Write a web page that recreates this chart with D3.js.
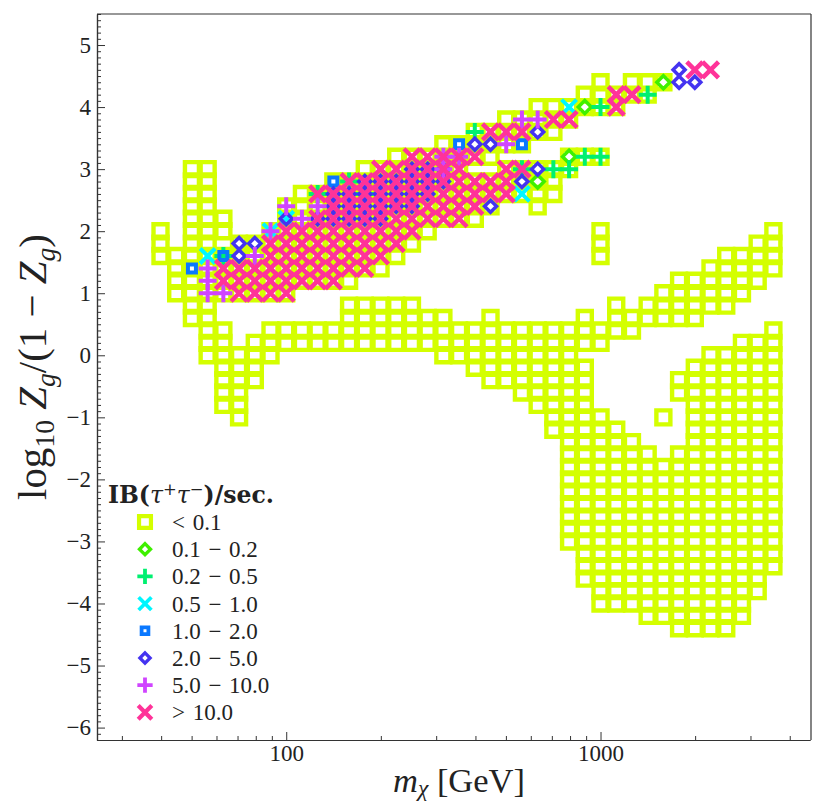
<!DOCTYPE html>
<html><head><meta charset="utf-8">
<script src="https://cdn.jsdelivr.net/npm/d3@7"></script>
<style>body{margin:0;background:#fff}svg{display:block}text{font-family:"Liberation Serif","DejaVu Serif",serif;fill:#222}</style>
</head><body><svg id="chart" width="813" height="804"></svg>
<script>
// Grid cells.
// mIdx = 20*log10(m_chi / GeV)   (0.05-decade bins),  yIdx = 5*log10(Zg/(1-Zg))  (0.2 bins)
// each run: [yIdx, mIdxStart, mIdxEnd]
const labels = ["< 0.1", "0.1 − 0.2", "0.2 − 0.5", "0.5 − 1.0", "1.0 − 2.0", "2.0 − 5.0", "5.0 − 10.0", "> 10.0"];

const runsLt01 = [
 [22,60,60],[22,62,64],[21,59,63],[20,56,61],[19,54,58],[18,52,57],[17,50,55],
 [16,47,53],[16,58,60],
 [15,34,35],[15,45,51],[15,54,58],
 [14,34,35],[14,43,57],
 [13,34,35],[13,41,57],
 [12,34,35],[12,40,53],[12,56,56],
 [11,34,36],[11,40,52],
 [10,32,32],[10,34,36],[10,39,49],[10,60,60],[10,71,71],
 [9,32,32],[9,34,35],[9,37,48],[9,60,60],[9,70,71],
 [8,32,47],[8,60,60],[8,68,71],
 [7,33,46],[7,67,71],
 [6,33,44],[6,65,70],
 [5,33,40],[5,64,69],
 [4,34,35],[4,44,48],[4,61,61],[4,63,68],
 [3,34,35],[3,44,50],[3,53,53],[3,59,59],[3,61,66],
 [2,35,36],[2,39,62],[2,71,71],
 [1,35,36],[1,38,60],[1,69,71],
 [0,35,39],[0,50,58],[0,67,71],
 [-1,36,38],[-1,52,59],[-1,66,71],
 [-2,36,38],[-2,53,59],[-2,65,71],
 [-3,36,37],[-3,55,59],[-3,65,71],
 [-4,36,37],[-4,56,59],[-4,66,71],
 [-5,37,37],[-5,57,60],[-5,64,64],[-5,66,71],
 [-6,57,61],[-6,66,71],
 [-7,58,62],[-7,66,71],
 [-8,58,63],[-8,65,71],
 [-9,58,71],[-10,58,71],[-11,58,71],[-12,58,71],[-13,58,71],[-14,58,71],[-15,58,71],
 [-16,59,71],[-17,59,71],[-18,59,70],[-19,60,70],[-20,60,69],[-21,63,69],[-22,65,68]
];
const runs01to02 = [[22,64,64],[20,59,59],[16,58,58],[14,56,56]];
const runs02to05 = [[21,63,63],[20,60,60],[18,52,52],[16,59,60],[15,57,58],[15,55,55],[14,44,44],[13,42,42],[13,45,45],[8,36,36]];
const runs05to1 = [[20,58,58],[13,55,55],[11,40,40],[10,39,39],[8,35,35]];
const runs1to2 = [[17,51,51],[17,55,55],[14,43,43],[8,36,36],[7,34,34]];
const runs2to5 = [[23,65,65],[22,65,66],[18,56,56],[17,52,53],[15,56,56],[15,48,50],[14,55,55],[14,45,50],
 [13,43,49],[12,53,53],[12,43,48],[11,40,40],[11,42,46],[9,37,38],[8,37,37]];
const runs5to10 = [[19,55,56],[17,54,54],[16,50,51],[15,50,50],[12,40,40],[12,42,42],[11,41,41],[10,39,39],
 [8,38,38],[7,35,35],[6,35,35],[5,35,36]];
const runsGt10 = [[23,66,67],[21,61,62],[20,61,61],[19,57,58],[18,53,55],
 [16,48,52],[15,46,51],[15,54,55],[14,44,54],[13,42,54],[12,43,52],[11,42,51],
 [10,40,48],[9,39,47],[8,39,46],[7,36,45],[6,36,43],[5,37,40]];

const seriesRuns = [runsLt01, runs01to02, runs02to05, runs05to1, runs1to2, runs2to5, runs5to10, runsGt10];

const xMajor = [100, 1000];
const xMinor = [30,40,50,60,70,80,90,200,300,400,500,600,700,800,900,2000,3000,4000];
const yMajor = [-6,-5,-4,-3,-2,-1,0,1,2,3,4,5];

// ---- styles ----
const styles = [
 {color:"#d4ff00", shape:"square", s:14, w:4.4},
 {color:"#3ff000", shape:"diamond", s:6.5, w:3.5},
 {color:"#00f070", shape:"plus", s:9, w:4},
 {color:"#00f6ff", shape:"cross", s:7.5, w:4},
 {color:"#0a78ff", shape:"square", s:8, w:4},
 {color:"#4433f0", shape:"diamond", s:6, w:3.5},
 {color:"#d044ff", shape:"plus", s:9, w:4},
 {color:"#ff3399", shape:"cross", s:8, w:4.5}
];
function shapePath(shape, s){
  if(shape==="square") return `M${-s/2},${-s/2}h${s}v${s}h${-s}Z`;
  if(shape==="diamond") return `M0,${-s}L${s},0L0,${s}L${-s},0Z`;
  if(shape==="plus") return `M${-s},0H${s}M0,${-s}V${s}`;
  return `M${-s},${-s}L${s},${s}M${-s},${s}L${s},${-s}`;
}
function expand(runs){
  const pts=[];
  runs.forEach(([r,c0,c1])=>{ for(let c=c0;c<=c1;c++) pts.push({m:Math.pow(10,c/20), v:r/5}); });
  return pts;
}
// layout helper: match a text's length to a target
function fit(sel, target){
  const w = sel.node().getBBox().width;
  const fs = +sel.attr("font-size");
  if (w > 0) sel.attr("font-size", fs*target/w);
}

const svg = d3.select("#chart");
const x = d3.scaleLog().domain([25, 4640]).range([97, 810]);
const y = d3.scaleLinear().domain([-6.2, 5.5]).range([740, 14]);

// marks
const gMarks = svg.append("g");
seriesRuns.forEach((runs,i)=>{
  const st = styles[i];
  gMarks.append("g").selectAll("path").data(expand(runs)).join("path")
    .attr("d", shapePath(st.shape, st.s))
    .attr("transform", d=>`translate(${x(d.m)},${y(d.v)})`)
    .attr("fill","none").attr("stroke",st.color).attr("stroke-width",st.w)
    .attr("stroke-linecap","butt").attr("stroke-linejoin","miter");
});

// axes
const axisColor = "#333";
svg.append("g").attr("transform","translate(0,740)")
  .call(d3.axisBottom(x).tickValues(xMajor).tickFormat(d3.format("d")).tickSizeInner(-8).tickSizeOuter(0).tickPadding(5));
svg.append("g").attr("transform","translate(0,740)")
  .call(d3.axisBottom(x).tickValues(xMinor).tickFormat("").tickSizeInner(-4).tickSizeOuter(0));
const yMinor = d3.range(-62,56).filter(k=>k%10!==0).map(k=>k/10);
svg.append("g").attr("transform","translate(97,0)")
  .call(d3.axisLeft(y).tickValues(yMajor).tickFormat(d=>d<0?"−"+Math.abs(d):d).tickSizeInner(-8).tickSizeOuter(0).tickPadding(6));
svg.append("g").attr("transform","translate(97,0)")
  .call(d3.axisLeft(y).tickValues(yMinor).tickFormat("").tickSizeInner(-4).tickSizeOuter(0));
svg.selectAll(".domain").attr("stroke",axisColor).attr("stroke-width",1.2);
svg.selectAll(".tick line").attr("stroke",axisColor).attr("stroke-width",1);
svg.selectAll(".tick text").attr("font-size",23).attr("fill","#222");
// frame top/right
svg.append("line").attr("x1",97).attr("x2",811).attr("y1",14).attr("y2",14).attr("stroke",axisColor).attr("stroke-width",1.2);
svg.append("line").attr("x1",811).attr("x2",811).attr("y1",14).attr("y2",740).attr("stroke",axisColor).attr("stroke-width",1.2);

// axis labels
const xl = svg.append("text").attr("x",459).attr("y",792).attr("text-anchor","middle").attr("font-size",32);
xl.append("tspan").attr("font-style","italic").text("m");
xl.append("tspan").attr("font-style","italic").attr("font-size","0.68em").attr("dy","0.15em").text("χ");
xl.append("tspan").attr("dy","-0.1em").text(" [GeV]");
fit(xl, 132);

const yl = svg.append("text").attr("transform","translate(46,367) rotate(-90)").attr("text-anchor","middle").attr("font-size",32);
yl.append("tspan").text("log");
yl.append("tspan").attr("font-size","0.68em").attr("dy","0.3em").text("10");
yl.append("tspan").attr("dy","-0.2em").text(" ");
yl.append("tspan").attr("font-style","italic").text("Z");
yl.append("tspan").attr("font-style","italic").attr("font-size","0.68em").attr("dy","0.3em").text("g");
yl.append("tspan").attr("dy","-0.2em").text("/(1 − ");
yl.append("tspan").attr("font-style","italic").text("Z");
yl.append("tspan").attr("font-style","italic").attr("font-size","0.68em").attr("dy","0.3em").text("g");
yl.append("tspan").attr("dy","-0.2em").text(")");
fit(yl, 266);

// legend
const lg = svg.append("g");
const lt = lg.append("text").attr("x",108).attr("y",503).attr("font-size",21).attr("font-weight","bold")
  .style("font-family","'DejaVu Serif', serif");
lt.append("tspan").text("IB(");
lt.append("tspan").attr("font-style","italic").attr("font-weight","normal").text("τ");
lt.append("tspan").attr("font-size","0.7em").attr("dy","-0.5em").attr("font-weight","normal").text("+");
lt.append("tspan").attr("dy","0.35em").attr("font-style","italic").attr("font-weight","normal").text("τ");
lt.append("tspan").attr("font-size","0.7em").attr("dy","-0.5em").attr("font-weight","normal").text("−");
lt.append("tspan").attr("dy","0.35em").text(")/sec.");
fit(lt, 166);

labels.forEach((lab,i)=>{
  const cy = 522 + i*27.2, st = styles[i], k = 0.85;
  lg.append("path").attr("d",shapePath(st.shape, st.s*k)).attr("transform",`translate(145,${cy})`)
    .attr("fill","none").attr("stroke",st.color).attr("stroke-width",st.w*0.95);
  lg.append("text").attr("x",172).attr("y",cy+8).attr("font-size",23)
    .text(lab.replace(/ /g,"\u2004"));
});
</script></body></html>
